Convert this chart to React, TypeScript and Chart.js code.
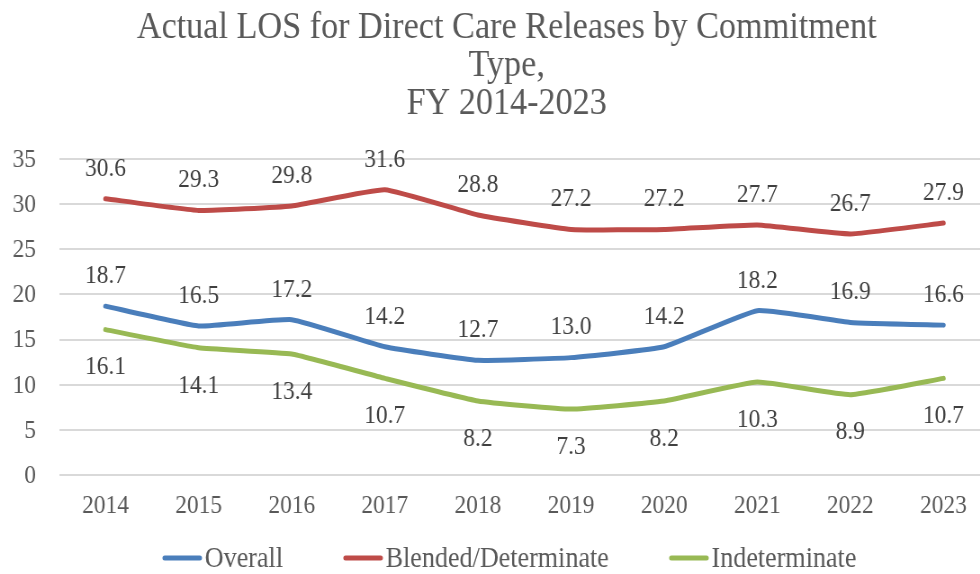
import React, { useEffect, useRef } from "react";
import { Chart, registerables } from "chart.js";

Chart.register(...registerables);

const years = ["2014", "2015", "2016", "2017", "2018", "2019", "2020", "2021", "2022", "2023"];
const overall = [18.7, 16.5, 17.2, 14.2, 12.7, 13.0, 14.2, 18.2, 16.9, 16.6];
const blended = [30.6, 29.3, 29.8, 31.6, 28.8, 27.2, 27.2, 27.7, 26.7, 27.9];
const indeterminate = [16.1, 14.1, 13.4, 10.7, 8.2, 7.3, 8.2, 10.3, 8.9, 10.7];
const seriesNames = ["Overall", "Blended/Determinate", "Indeterminate"];
const yTicks = [0, 5, 10, 15, 20, 25, 30, 35];
const titleLines = ["Actual LOS for Direct Care Releases by Commitment", "Type,", "FY 2014-2023"];

const SQUEEZE = 0.9;
const W = 1110;
const H = 574;
const FONT = '"Liberation Serif", "Times New Roman", serif';
const COLORS = ["#4A7EBB", "#BE4B48", "#98B954"];
const LABEL_POS = ["above", "above", "below"];

const textPlugin = {
  id: "customText",
  afterDraw(chart: any) {
    const ctx = chart.ctx;
    const xs = chart.scales.x;
    const ys = chart.scales.y;
    ctx.save();
    // title
    ctx.fillStyle = "#595959";
    ctx.font = `38px ${FONT}`;
    ctx.textAlign = "center";
    ctx.textBaseline = "middle";
    const titleY = [28, 66, 104];
    titleLines.forEach((t, i) => ctx.fillText(t, 563, titleY[i]));

    // y ticks
    ctx.font = `26px ${FONT}`;
    ctx.textAlign = "right";
    ctx.textBaseline = "middle";
    yTicks.forEach((v) => ctx.fillText(String(v), 40, ys.getPixelForValue(v) + 1));

    // x ticks
    ctx.textAlign = "center";
    years.forEach((y, i) => ctx.fillText(y, xs.getPixelForValue(i), 506));

    // data labels
    ctx.fillStyle = "#404040";
    chart.data.datasets.forEach((ds: any, di: number) => {
      const meta = chart.getDatasetMeta(di);
      meta.data.forEach((pt: any, i: number) => {
        const v = ds.data[i];
        const dy = LABEL_POS[di] === "above" ? -30 : 38;
        ctx.fillText(v.toFixed(1), pt.x, pt.y + dy);
      });
    });

    // legend
    ctx.font = `29px ${FONT}`;
    const sym = 44;
    const gapSym = 3;
    const gapItem = 67;
    const widths = seriesNames.map((n) => ctx.measureText(n).width);
    const total = widths.reduce((a, b) => a + b + sym + gapSym, 0) + gapItem * (seriesNames.length - 1);
    let x = 566 - total / 2;
    const ly = 558;
    ctx.textAlign = "left";
    ctx.textBaseline = "middle";
    seriesNames.forEach((n, i) => {
      ctx.strokeStyle = COLORS[i];
      ctx.lineWidth = 5;
      ctx.lineCap = "round";
      ctx.beginPath();
      ctx.moveTo(x + 2.5, ly);
      ctx.lineTo(x + sym - 2.5, ly);
      ctx.stroke();
      ctx.fillStyle = "#595959";
      ctx.fillText(n, x + sym + gapSym, ly + 1);
      x += sym + gapSym + widths[i] + gapItem;
    });
    ctx.restore();
  },
};

export default function App() {
  const ref = useRef<HTMLCanvasElement>(null);
  useEffect(() => {
    if (!ref.current) return;
    const chart = new Chart(ref.current, {
      type: "line",
      data: {
        labels: years,
        datasets: [overall, blended, indeterminate].map((d, i) => ({
          label: seriesNames[i],
          data: d,
          borderColor: COLORS[i],
          backgroundColor: COLORS[i],
          borderWidth: 5,
          pointRadius: 0,
          tension: 0.12,
          borderCapStyle: "round" as const,
          borderJoinStyle: "round" as const,
        })),
      },
      options: {
        responsive: false,
        animation: false,
        devicePixelRatio: 1,
        layout: { padding: { top: 159, right: 10, left: 0, bottom: 0 } },
        plugins: { legend: { display: false }, title: { display: false }, tooltip: { enabled: false } },
        scales: {
          x: {
            type: "category",
            offset: true,
            grid: { display: false, drawTicks: false },
            border: { display: false },
            ticks: { display: false },
            afterFit: (s: any) => {
              s.height = 99;
            },
          },
          y: {
            min: 0,
            max: 35,
            ticks: { display: false, stepSize: 5 },
            grid: { color: "#D9D9D9", lineWidth: 2, drawTicks: false },
            border: { display: false },
            afterFit: (s: any) => {
              s.width = 65.5;
            },
          },
        },
      },
      plugins: [textPlugin],
    });
    return () => chart.destroy();
  }, []);
  return (
    <div style={{ position: "fixed", left: 0, top: 0, width: 980, height: 574, overflow: "hidden", background: "#fff" }}>
      <div style={{ width: W, height: H, transform: `scaleX(${SQUEEZE})`, transformOrigin: "0 0" }}>
        <canvas ref={ref} width={W} height={H} style={{ width: W, height: H, display: "block" }} />
      </div>
    </div>
  );
}
